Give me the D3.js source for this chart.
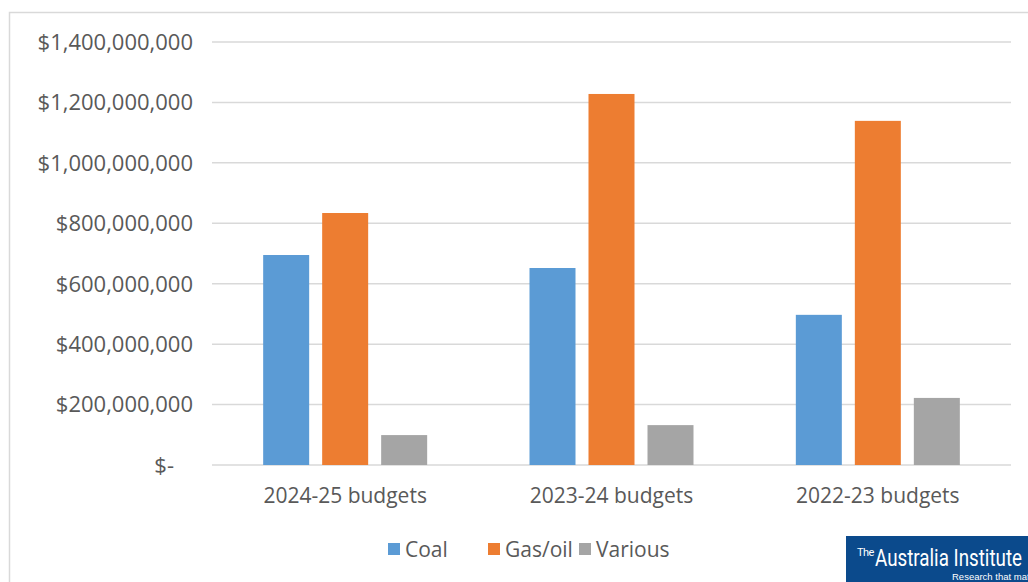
<!DOCTYPE html>
<html>
<head>
<meta charset="utf-8">
<script src="https://cdn.jsdelivr.net/npm/d3@7"></script>
<style>
  body { margin: 0; background: #fff; }
  svg { display: block; font-family: "Open Sans", "Noto Sans", sans-serif; }
</style>
</head>
<body>
<svg id="chart" width="1028" height="582"></svg>
<script>
const categories = ["2024-25 budgets", "2023-24 budgets", "2022-23 budgets"];
const seriesNames = ["Coal", "Gas/oil", "Various"];
const coal = [695e6, 652e6, 497e6];
const gasOil = [834e6, 1228e6, 1139e6];
const various = [99e6, 132e6, 222e6];
const yTicks = [0, 200e6, 400e6, 600e6, 800e6, 1000e6, 1200e6, 1400e6];

const colors = ["#5b9bd5", "#ed7d31", "#a5a5a5"];
const seriesValues = [coal, gasOil, various];

const svg = d3.select("#chart");
const plot = { left: 212, right: 1011, top: 42, bottom: 465 };

// outer chart border (only left and top visible in the crop)
svg.append("rect")
    .attr("x", 9.5).attr("y", 12.5)
    .attr("width", 1040).attr("height", 600)
    .attr("fill", "none")
    .attr("stroke", "#d9d9d9")
    .attr("stroke-width", 1.5);

const x0 = d3.scaleBand().domain(categories).range([plot.left, plot.right]);
const x1 = d3.scaleBand().domain(seriesNames)
    .range([0, 2 * 59 + 46]).paddingInner(13 / 59);
const y = d3.scaleLinear().domain([0, 1400e6]).range([plot.bottom, plot.top]);

// gridlines
svg.append("g")
    .selectAll("line")
    .data(yTicks)
    .join("line")
    .attr("x1", plot.left).attr("x2", plot.right)
    .attr("y1", d => y(d)).attr("y2", d => y(d))
    .attr("stroke", "#d9d9d9")
    .attr("stroke-width", 1.5);

// y axis labels
const fmt = d => d === 0 ? "$-" : "$" + d3.format(",")(d);
svg.append("g")
    .selectAll("text")
    .data(yTicks)
    .join("text")
    .attr("x", d => d === 0 ? 174 : 193)
    .attr("y", d => y(d))
    .attr("dy", "0.36em")
    .attr("text-anchor", "end")
    .attr("fill", "#595959")
    .style("font-size", "22px")
    .text(fmt);

// bars
const groups = svg.append("g")
    .selectAll("g")
    .data(categories)
    .join("g")
    .attr("transform", c => `translate(${x0(c) + (x0.bandwidth() - x1.range()[1]) / 2},0)`);

groups.selectAll("rect")
    .data((c, i) => seriesNames.map((s, j) => ({ s, v: seriesValues[j][i], color: colors[j] })))
    .join("rect")
    .attr("x", d => x1(d.s))
    .attr("y", d => y(d.v))
    .attr("width", x1.bandwidth())
    .attr("height", d => y(0) - y(d.v))
    .attr("fill", d => d.color);

// category labels
svg.append("g")
    .selectAll("text")
    .data(categories)
    .join("text")
    .attr("x", c => x0(c) + x0.bandwidth() / 2)
    .attr("y", 503)
    .attr("text-anchor", "middle")
    .attr("fill", "#595959")
    .style("font-size", "21px")
    .text(c => c);

// legend
const legendX = [388, 488, 579];
const legend = svg.append("g")
    .selectAll("g")
    .data(seriesNames)
    .join("g")
    .attr("transform", (s, i) => `translate(${legendX[i]},549)`);
legend.append("rect")
    .attr("x", 0).attr("y", -6)
    .attr("width", 12).attr("height", 12)
    .attr("fill", (s, i) => colors[i]);
legend.append("text")
    .attr("x", 17).attr("dy", "0.36em")
    .attr("fill", "#595959")
    .style("font-size", "21px")
    .text(s => s);

// logo
const logo = svg.append("g");
logo.append("rect")
    .attr("x", 846).attr("y", 536)
    .attr("width", 190).attr("height", 50)
    .attr("fill", "#0b4a8c");
logo.append("text")
    .attr("x", 857).attr("y", 556)
    .attr("fill", "#fff")
    .style("font-family", "'Liberation Sans Narrow', 'Roboto', sans-serif")
    .style("font-size", "11px")
    .style("letter-spacing", "-0.5px")
    .text("The");
logo.append("text")
    .attr("x", 875).attr("y", 566)
    .attr("fill", "#fff")
    .attr("textLength", 147)
    .attr("lengthAdjust", "spacingAndGlyphs")
    .style("font-family", "'Liberation Sans Narrow', 'Roboto', sans-serif")
    .style("font-size", "23px")
    .text("Australia Institute");
logo.append("text")
    .attr("x", 952).attr("y", 580)
    .attr("fill", "#fff")
    .style("font-family", "'Liberation Sans Narrow', sans-serif")
    .style("font-size", "9.5px")
    .text("Research that matters");
</script>
</body>
</html>
